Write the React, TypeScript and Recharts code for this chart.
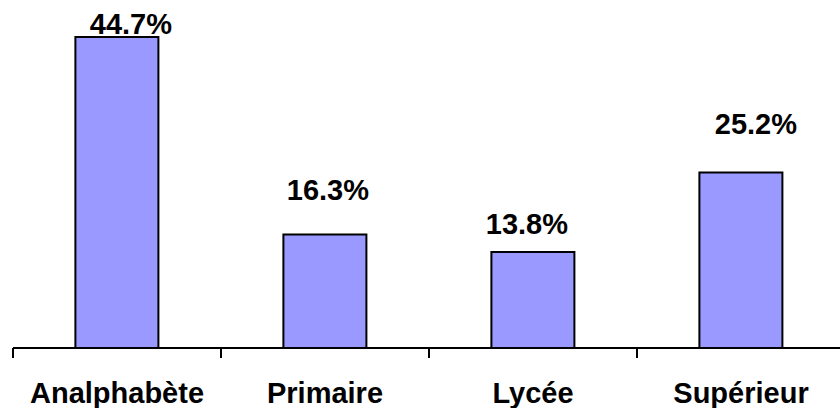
import { BarChart, Bar, XAxis, YAxis, LabelList } from "recharts";

const categories = ["Analphabète", "Primaire", "Lycée", "Supérieur"];
const shares = [44.7, 16.3, 13.8, 25.2];
const yMax = 50;

// hand-placed label nudges (dx, gap above the bar top), as in the original
const labelNudges = [
  { dx: 14, gap: 3 },
  { dx: 3, gap: 35 },
  { dx: -6, gap: 18 },
  { dx: 15, gap: 39 },
];

const data = categories.map((name, i) => ({ name, value: shares[i] }));

const CHART_W = 850;
const CHART_H = 408;
const MARGIN = { top: 0, right: 5, bottom: 0, left: 13 };
const BAND = (CHART_W - MARGIN.left - MARGIN.right) / categories.length;
const FONT = "'Liberation Sans', Arial, Helvetica, sans-serif";

function CategoryTick(props: any) {
  const { x, y, payload } = props;
  return (
    <g>
      <line x1={x - BAND / 2} x2={x - BAND / 2} y1={y} y2={y + 10} stroke="#000" strokeWidth={2} />
      <text
        x={x}
        y={y + 55}
        textAnchor="middle"
        fontFamily={FONT}
        fontWeight="bold"
        fontSize={29}
        fill="#000"
      >
        {payload.value}
      </text>
    </g>
  );
}

function ValueLabel(props: any) {
  const { x, y, width, value, index } = props;
  const nudge = labelNudges[index] ?? { dx: 0, gap: 6 };
  return (
    <text
      x={x + width / 2 + nudge.dx}
      y={y - nudge.gap}
      textAnchor="middle"
      fontFamily={FONT}
      fontWeight="bold"
      fontSize={29}
      fill="#000"
    >
      {`${value.toFixed(1)}%`}
    </text>
  );
}

export default function App() {
  return (
    <div style={{ position: "absolute", left: 0, top: 0, width: 840, height: 408, overflow: "hidden", background: "#fff" }}>
      <BarChart width={CHART_W} height={CHART_H} data={data} margin={MARGIN} barCategoryGap="30%">
        <XAxis
          dataKey="name"
          height={60}
          axisLine={{ stroke: "#000", strokeWidth: 2 }}
          tickLine={false}
          tickSize={0}
          tickMargin={0}
          interval={0}
          tick={<CategoryTick />}
        />
        <YAxis hide domain={[0, yMax]} />
        <Bar dataKey="value" fill="#9999FF" stroke="#000" strokeWidth={2} isAnimationActive={false}>
          <LabelList dataKey="value" content={<ValueLabel />} />
        </Bar>
      </BarChart>
    </div>
  );
}
